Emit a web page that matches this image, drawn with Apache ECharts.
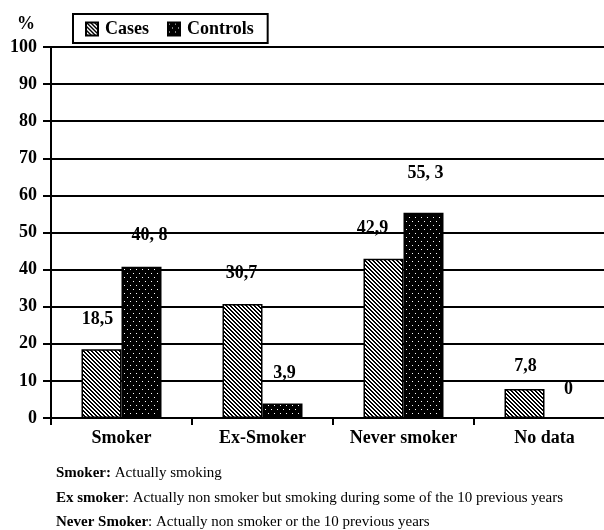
<!DOCTYPE html>
<html>
<head>
<meta charset="utf-8">
<script src="https://cdn.jsdelivr.net/npm/echarts@6/dist/echarts.min.js"></script>
<style>
html, body { margin: 0; padding: 0; overflow: hidden; background: #fff; }
#chart { width: 640px; height: 530px; }
</style>
</head>
<body>
<div id="chart"></div>
<script>
// ---- data ----
const categories = ['Smoker', 'Ex-Smoker', 'Never smoker', 'No data'];
const seriesNames = ['Cases', 'Controls'];
const casesValues = [18.5, 30.7, 42.9, 7.8];
const controlsValues = [40.8, 3.9, 55.3, 0];
const casesLabels = ['18,5', '30,7', '42,9', '7,8'];
const controlsLabels = ['40, 8', '3,9', '55, 3', '0'];
const yTicks = [0, 10, 20, 30, 40, 50, 60, 70, 80, 90, 100];
const noteTerms = ['Smoker:', 'Ex smoker', 'Never Smoker'];
const noteTexts = [' Actually smoking', ': Actually non smoker but smoking during some of the 10 previous years', ': Actually non smoker or the 10 previous years'];

// ---- label placement tweaks (style) ----
const casesOffsets = [[-4, -16], [-1, -17], [-11, -16], [1, -9]];
const controlsOffsets = [[8, -17], [2, -16], [2, -25], [4, -14]];

// ---- patterns ----
function hatchPattern() {
  const c = document.createElement('canvas');
  c.width = 4; c.height = 4;
  const ctx = c.getContext('2d');
  ctx.fillStyle = '#fff'; ctx.fillRect(0, 0, 4, 4);
  ctx.fillStyle = '#000';
  for (let x = 0; x < 4; x++) for (let y = 0; y < 4; y++) {
    const m = ((x - y) % 4 + 4) % 4;
    if (m === 0 || m === 1) ctx.fillRect(x, y, 1, 1);
  }
  return c;
}
function dotPattern() {
  const c = document.createElement('canvas');
  c.width = 6; c.height = 8;
  const ctx = c.getContext('2d');
  ctx.fillStyle = '#000'; ctx.fillRect(0, 0, 6, 8);
  ctx.fillStyle = '#fff';
  ctx.fillRect(1, 1, 1, 1);
  ctx.fillRect(4, 5, 1, 1);
  return c;
}
const casesFill = { image: hatchPattern(), repeat: 'repeat' };
const controlsFill = { image: dotPattern(), repeat: 'repeat' };

const FONT = 'Liberation Serif';
const labelStyle = { show: true, position: 'top', distance: 5, color: '#000', fontFamily: FONT, fontWeight: 'bold', fontSize: 18 };

const titles = [{ text: '%', left: 17, top: 15, padding: 0, textStyle: { fontFamily: FONT, fontWeight: 'bold', fontSize: 18, color: '#000' } }];
const noteTops = [466, 491, 515];
noteTerms.forEach((t, i) => {
  titles.push({
    text: '{b|' + t + '}{n|' + noteTexts[i] + '}',
    left: 56, top: noteTops[i], padding: 0,
    textStyle: { rich: {
      b: { fontFamily: FONT, fontWeight: 'bold', fontSize: 15, color: '#000' },
      n: { fontFamily: FONT, fontWeight: 'normal', fontSize: 15, color: '#000' }
    } }
  });
});

const chart = echarts.init(document.getElementById('chart'), null, { renderer: 'canvas' });
chart.setOption({
  animation: false,
  backgroundColor: '#fff',
  title: titles,
  legend: {
    data: seriesNames,
    left: 73, top: 14,
    orient: 'horizontal',
    borderColor: '#000', borderWidth: 2,
    padding: [6, 14, 5, 12],
    itemWidth: 12, itemHeight: 13, itemGap: 18,
    icon: 'rect',
    textStyle: { fontFamily: FONT, fontWeight: 'bold', fontSize: 18, color: '#000', padding: [0, 0, 0, 2] }
  },
  grid: { left: 51, top: 47, width: 564, height: 371, containLabel: false },
  xAxis: {
    type: 'category',
    data: categories,
    axisLine: { lineStyle: { color: '#000', width: 2 } },
    axisTick: { show: true, alignWithLabel: false, length: 7, lineStyle: { color: '#000', width: 2 } },
    axisLabel: { margin: 11, color: '#000', fontFamily: FONT, fontWeight: 'bold', fontSize: 18 },
    splitLine: { show: false }
  },
  yAxis: {
    type: 'value',
    min: yTicks[0], max: yTicks[yTicks.length - 1], interval: yTicks[1] - yTicks[0],
    axisLine: { show: true, lineStyle: { color: '#000', width: 2 } },
    axisTick: { show: true, length: 8, lineStyle: { color: '#000', width: 2 } },
    axisLabel: { margin: 14, color: '#000', fontFamily: FONT, fontWeight: 'bold', fontSize: 18 },
    splitLine: { show: true, lineStyle: { color: '#000', width: 2 } }
  },
  series: [
    {
      name: seriesNames[0], type: 'bar', barWidth: 40, barGap: '0%',
      itemStyle: { color: casesFill, borderColor: '#000', borderWidth: 1.5 },
      label: labelStyle,
      data: casesValues.map((v, i) => ({ value: v, label: { formatter: casesLabels[i], offset: casesOffsets[i] } }))
    },
    {
      name: seriesNames[1], type: 'bar', barWidth: 40, barGap: '0%',
      itemStyle: { color: controlsFill, borderColor: '#000', borderWidth: 1.5 },
      label: labelStyle,
      data: controlsValues.map((v, i) => ({ value: v, label: { formatter: controlsLabels[i], offset: controlsOffsets[i] } }))
    }
  ]
});
</script>
</body>
</html>
